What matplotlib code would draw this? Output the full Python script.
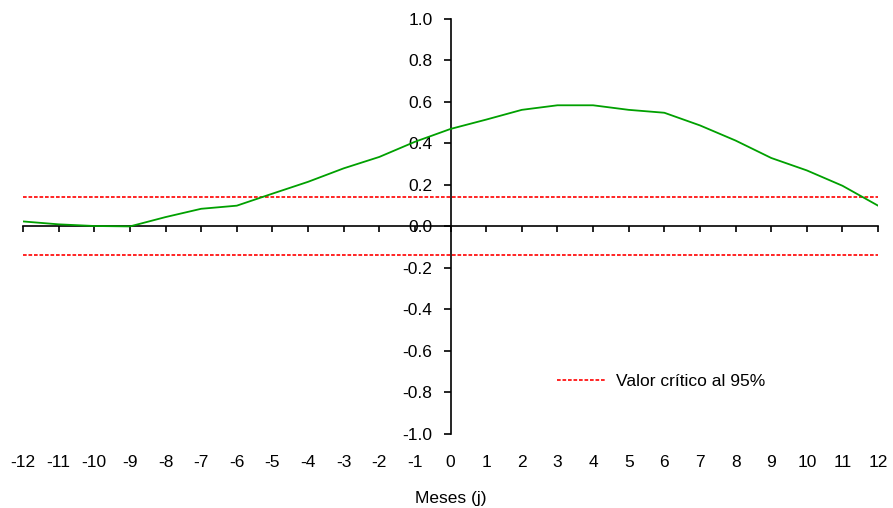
import numpy as np
import matplotlib
matplotlib.use("Agg")
from matplotlib import pyplot as plt

plt.rcParams['font.family'] = ['Liberation Sans', 'DejaVu Sans']

# lags (meses) y correlaciones cruzadas
lags = np.arange(-12, 13)
corr = [0.024, 0.010, 0.002, 0.0, 0.045, 0.085, 0.100, 0.158, 0.215, 0.280,
        0.335, 0.408, 0.470, 0.515, 0.562, 0.584, 0.584, 0.562, 0.548, 0.487,
        0.414, 0.330, 0.270, 0.196, 0.100]
critico = 0.14

yticks = np.arange(-1.0, 1.01, 0.2)
fs = 12.5

fig = plt.figure(figsize=(8.93, 5.08), dpi=100)
ax = fig.add_axes([0.0258, 0.146, 0.9575, 0.8166])

ax.plot(lags, corr, color='#00a000', lw=1.3, zorder=3)
ax.axhline(critico, color='#ff0000', lw=1.2, dashes=(2.2, 1.1), zorder=2,
           label='Valor crítico al 95%')
ax.axhline(-critico, color='#ff0000', lw=1.2, dashes=(2.2, 1.1), zorder=2)

ax.set_xlim(-12, 12)
ax.set_ylim(-1.0, 1.0)

for s in ['top', 'right']:
    ax.spines[s].set_visible(False)
ax.spines['left'].set_position(('data', 0))
ax.spines['bottom'].set_position(('data', 0))
for s in ['left', 'bottom']:
    ax.spines[s].set_linewidth(1.2)
    ax.spines[s].set_zorder(1)

ax.set_yticks(yticks)
ax.set_yticklabels(['%.1f' % v if abs(v) > 1e-9 else '0.0' for v in yticks])
ax.tick_params(axis='y', direction='out', length=5, width=1.2, pad=8, labelsize=fs)

ax.set_xticks(lags)
ax.tick_params(axis='x', direction='out', length=4.5, width=1.2, labelbottom=False)

sec = ax.secondary_xaxis('bottom')
sec.set_xticks(lags)
sec.set_xticklabels([str(v) for v in lags])
sec.spines['bottom'].set_visible(False)
sec.tick_params(axis='x', length=0, pad=15, labelsize=fs)
sec.set_xlabel('Meses (j)', fontsize=fs, labelpad=15.5)

ax.legend(loc='center left', bbox_to_anchor=(0.606, 0.25), bbox_transform=fig.transFigure,
          frameon=False, fontsize=fs, handlelength=2.8, handletextpad=0.6)

fig.savefig('out.png', dpi=100)
